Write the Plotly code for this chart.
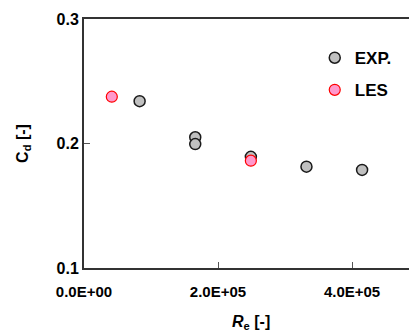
import plotly.graph_objects as go

exp_re = [8.3e4, 1.66e5, 1.66e5, 2.49e5, 3.32e5, 4.15e5]
exp_cd = [0.234, 0.205, 0.1995, 0.1893, 0.1814, 0.1788]
les_re = [4.15e4, 2.49e5]
les_cd = [0.2376, 0.1862]

x_ticks = [0, 2e5, 4e5]
x_tick_text = ["0.0E+00", "2.0E+05", "4.0E+05"]
y_ticks = [0.1, 0.2, 0.3]
y_tick_text = ["0.1", "0.2", "0.3"]

FONT = "Liberation Sans, Arial, sans-serif"

fig = go.Figure()
fig.add_trace(go.Scatter(
    x=exp_re, y=exp_cd, mode="markers", name="EXP.", legendgroup="a",
    marker=dict(size=11, color="#c0c0c0", line=dict(color="#1a1a1a", width=1.5)),
))
fig.add_trace(go.Scatter(
    x=les_re, y=les_cd, mode="markers", name="LES", legendgroup="b",
    marker=dict(size=11, color="#ff99cc", line=dict(color="#ff0000", width=1.2)),
))

fig.update_layout(
    width=409, height=336,
    margin=dict(l=84, r=0, t=19, b=68),
    plot_bgcolor="white", paper_bgcolor="white",
    font=dict(family=FONT, color="black"),
    showlegend=True,
    legend=dict(
        x=0.71, y=0.915, xanchor="left", yanchor="top",
        font=dict(size=17, family=FONT, weight="bold"),
        tracegroupgap=7, traceorder="grouped",
        bgcolor="rgba(0,0,0,0)",
    ),
    xaxis=dict(
        range=[0, 4.85e5], tickvals=x_ticks, ticktext=x_tick_text,
        ticks="inside", ticklen=6, tickcolor="#555",
        showline=True, linecolor="#333", linewidth=2, mirror=True,
        showgrid=False, zeroline=False,
        ticklabelstandoff=9,
        tickfont=dict(size=15, family=FONT, weight="bold"),
    ),
    yaxis=dict(
        range=[0.1, 0.3], tickvals=y_ticks, ticktext=y_tick_text,
        ticks="inside", ticklen=6, tickcolor="#555",
        showline=True, linecolor="#333", linewidth=2,
        showgrid=False, zeroline=False,
        tickfont=dict(size=16, family=FONT, weight="bold"),
        title=dict(text="C<sub>d</sub> [-]", font=dict(size=16, weight="bold"), standoff=24),
    ),
    annotations=[dict(
        text="<i>R</i><sub>e</sub> [-]", xref="paper", yref="paper",
        x=0.515, y=-0.22, xanchor="center", yanchor="middle", showarrow=False,
        font=dict(size=16, family=FONT, weight="bold"),
    )],
)

fig.write_html("out.html")
